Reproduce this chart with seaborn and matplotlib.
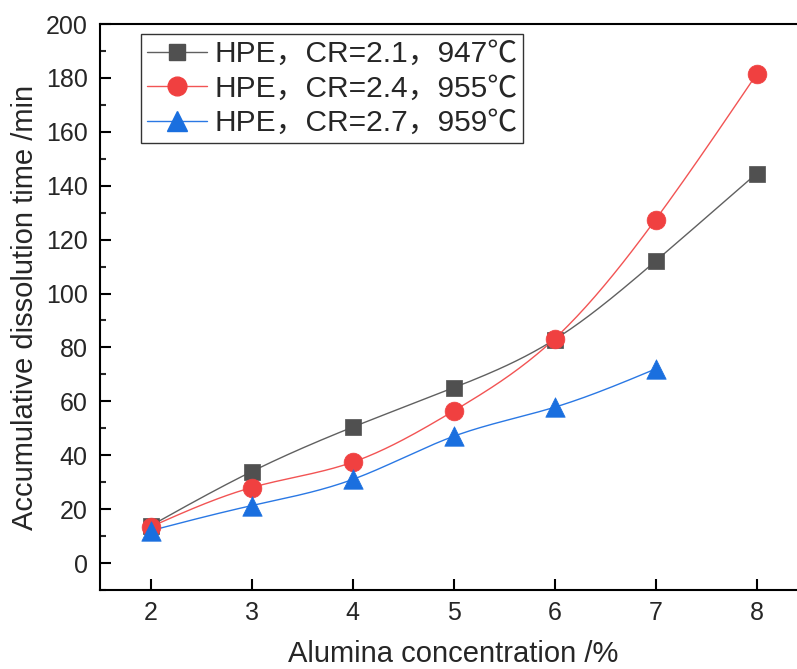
import numpy as np
import pandas as pd
import matplotlib
matplotlib.use("Agg")
import matplotlib.pyplot as plt
from matplotlib.lines import Line2D
from matplotlib.ticker import MultipleLocator
import seaborn as sns

# Alumina concentration (%) and accumulated dissolution time (min)
alumina = [2, 3, 4, 5, 6, 7, 8]
time_cr21 = [13.8, 33.9, 50.4, 65.0, 82.9, 112.0, 144.5]
time_cr24 = [13.4, 28.0, 37.4, 56.4, 83.2, 127.4, 181.3]
alumina_cr27 = [2, 3, 4, 5, 6, 7]
time_cr27 = [12.0, 21.3, 31.0, 47.0, 57.8, 72.0]

labels = ["HPE，CR=2.1，947℃", "HPE，CR=2.4，955℃", "HPE，CR=2.7，959℃"]
marker_colors = ["#505050", "#F04040", "#1A6FDF"]
line_colors = ["#606060", "#F25454", "#2A78E4"]
markers = ["s", "o", "^"]
marker_sizes = [12, 13.5, 14]


def natural_spline(x, y, n=200):
    """Smooth connecting curve through the points (natural cubic spline)."""
    x = np.asarray(x, float)
    y = np.asarray(y, float)
    k = len(x)
    h = np.diff(x)
    A = np.zeros((k, k))
    r = np.zeros(k)
    A[0, 0] = A[-1, -1] = 1.0
    for i in range(1, k - 1):
        A[i, i - 1] = h[i - 1]
        A[i, i] = 2 * (h[i - 1] + h[i])
        A[i, i + 1] = h[i]
        r[i] = 6 * ((y[i + 1] - y[i]) / h[i] - (y[i] - y[i - 1]) / h[i - 1])
    m = np.linalg.solve(A, r)
    xs = np.linspace(x[0], x[-1], n)
    idx = np.clip(np.searchsorted(x, xs) - 1, 0, k - 2)
    x0, x1 = x[idx], x[idx + 1]
    hh = x1 - x0
    a = (x1 - xs) / hh
    b = (xs - x0) / hh
    ys = (a * y[idx] + b * y[idx + 1]
          + ((a ** 3 - a) * m[idx] + (b ** 3 - b) * m[idx + 1]) * hh ** 2 / 6)
    return xs, ys


sns.set_style("ticks")
plt.rcParams["font.family"] = ["Liberation Sans", "Noto Sans CJK SC"]
plt.rcParams["axes.linewidth"] = 1.5

fig = plt.figure(figsize=(7.97, 6.69), dpi=100)
ax = fig.add_axes([100 / 797, 79 / 669, 707 / 797, 566 / 669])

series = [(alumina, time_cr21), (alumina, time_cr24), (alumina_cr27, time_cr27)]
for (xv, yv), lab, mc, lc, mk, ms in zip(series, labels, marker_colors,
                                          line_colors, markers, marker_sizes):
    xs, ys = natural_spline(xv, yv)
    sns.lineplot(x=xs, y=ys, ax=ax, color=lc, linewidth=1.0, legend=False)
    pts = pd.DataFrame({"x": xv, "y": yv})
    sns.scatterplot(data=pts, x="x", y="y", ax=ax, marker=mk, s=ms ** 2,
                    color=mc, edgecolor=mc, linewidth=0.5, legend=False,
                    zorder=3)

ax.set_xlim(1.5, 8.5)
ax.set_ylim(-10, 200)
ax.yaxis.set_major_locator(MultipleLocator(20))
ax.yaxis.set_minor_locator(MultipleLocator(10))
ax.set_xticks(alumina)
ax.tick_params(axis="both", which="major", direction="in", length=8,
               width=1.5, labelsize=18, color="black")
ax.tick_params(axis="x", pad=8)
ax.tick_params(axis="y", pad=9)
ax.tick_params(axis="y", which="minor", direction="in", length=4, width=1.5)
ax.tick_params(axis="x", which="minor", bottom=False)
for sp in ax.spines.values():
    sp.set_color("black")
    sp.set_linewidth(1.5)

ax.set_xlabel("Alumina concentration /%", fontsize=21, labelpad=11)
ax.set_ylabel("Accumulative dissolution time /min", fontsize=21, labelpad=5)

handles = [Line2D([], [], color=lc, linewidth=1.0, marker=mk, markersize=ms,
                  markerfacecolor=mc, markeredgecolor=mc)
           for lc, mc, mk, ms in zip(line_colors, marker_colors, markers,
                                     marker_sizes)]
leg = ax.legend(handles, labels, loc="upper left",
                bbox_to_anchor=(41 / 707, 556 / 566), borderaxespad=0,
                fontsize=21.5, frameon=True, fancybox=False, framealpha=1,
                edgecolor="#333333", handlelength=2.0, handletextpad=0.25,
                labelspacing=0.22, borderpad=0.2)
leg.get_frame().set_linewidth(1.0)
leg.get_frame().set_facecolor("white")

fig.savefig("out.png", dpi=100)
